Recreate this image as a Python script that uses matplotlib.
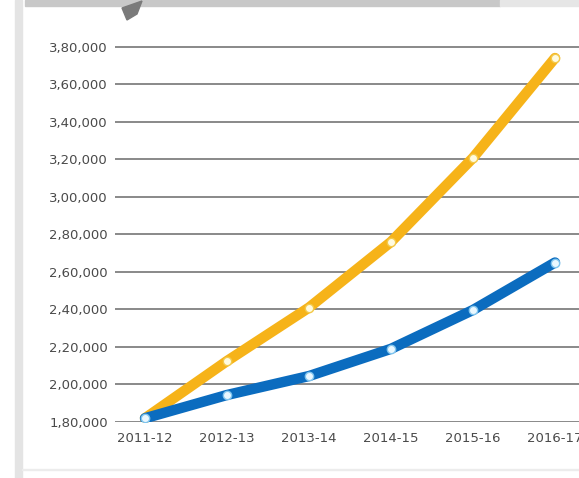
import matplotlib.pyplot as plt
from matplotlib.patches import Rectangle, Polygon

# %%
years = ["2011-12", "2012-13", "2013-14", "2014-15", "2015-16", "2016-17"]
yellow_vals = [182000, 212500, 241000, 276000, 320800, 374000]
blue_vals = [182000, 194400, 204500, 219000, 239700, 265000]
y_ticks = list(range(180000, 380001, 20000))


def indian_fmt(v):
    s = str(int(v))
    last3 = s[-3:]
    rest = s[:-3]
    parts = []
    while len(rest) > 2:
        parts.insert(0, rest[-2:])
        rest = rest[:-2]
    if rest:
        parts.insert(0, rest)
    return ",".join(parts + [last3])


# %%
fig = plt.figure(figsize=(5.79, 4.78), dpi=100)
W, H = 579, 478

# card decorations
fig.patches.append(Rectangle((15 / W, 0), 7 / W, 1, transform=fig.transFigure,
                             color="#e4e4e4", zorder=0))
fig.patches.append(Rectangle((25 / W, 1 - 6 / H), 475 / W, 6 / H, transform=fig.transFigure,
                             color="#c8c8c8", zorder=0))
fig.patches.append(Rectangle((500 / W, 1 - 6 / H), 79 / W, 6 / H, transform=fig.transFigure,
                             color="#e6e6e6", zorder=0))
fig.patches.append(Polygon([(122 / W, 1 - 8 / H), (142 / W, 1 - 1 / H), (137 / W, 1 - 14 / H),
                            (127 / W, 1 - 20 / H)], closed=True, transform=fig.transFigure,
                           color="#7a7a7a", zorder=0))
fig.patches.append(Rectangle((22 / W, 8 / H), 557 / W, 1.2 / H, transform=fig.transFigure,
                             color="#ececec", zorder=0))

ax = fig.add_axes([115 / W, (H - 422) / H, (W - 115) / W, (422 - 28) / H])
x = list(range(len(years)))

ax.plot(x, yellow_vals, color="#f6b319", lw=7.5, solid_capstyle="round",
        marker="o", ms=6, mfc="#fffbe0", mec="#f3c94a", mew=1, zorder=3)
ax.plot(x, blue_vals, color="#0b6cbf", lw=7.5, solid_capstyle="round",
        marker="o", ms=6, mfc="#eaf8ff", mec="#7fc4ee", mew=1, zorder=4)

ax.set_xlim(-30 / 82, 5 + 24 / 82)
ax.set_ylim(180000, 390000)
ax.set_yticks(y_ticks)
ax.set_yticklabels([indian_fmt(v) for v in y_ticks])
ax.set_xticks(x)
ax.set_xticklabels(years)
ax.grid(axis="y", color="#808080", lw=1.3)
ax.set_axisbelow(True)
for s in ax.spines.values():
    s.set_visible(False)
ax.tick_params(axis="both", length=0, labelsize=9.5, colors="#4a4a4a")
ax.tick_params(axis="y", pad=5)
ax.tick_params(axis="x", pad=7)
ax.patch.set_alpha(0)

fig.savefig("out.png", dpi=100)
